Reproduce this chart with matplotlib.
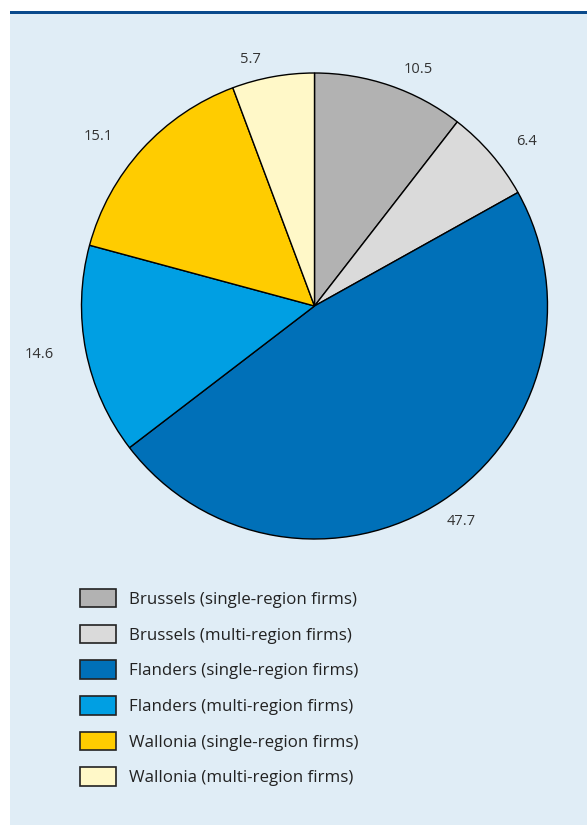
import matplotlib
matplotlib.use("Agg")
import matplotlib.pyplot as plt
from matplotlib.patches import Rectangle
import numpy as np

categories = [
    "Brussels (single-region firms)",
    "Brussels (multi-region firms)",
    "Flanders (single-region firms)",
    "Flanders (multi-region firms)",
    "Wallonia (single-region firms)",
    "Wallonia (multi-region firms)",
]
values = [10.5, 6.4, 47.7, 14.6, 15.1, 5.7]
value_labels = ["10.5", "6.4", "47.7", "14.6", "15.1", "5.7"]
colors = ["#b2b2b2", "#dadada", "#0070b8", "#009fe3", "#ffcc00", "#fff8c8"]

# per-label radial distance / angle nudges (style)
label_r = [1.11, 1.15, 1.12, 1.20, 1.18, 1.095]
label_da = [-4.7, -2.9, 1.0, -1.2, 4.3, 4.3]

plt.rcParams['font.family'] = ['Open Sans', 'DejaVu Sans']
W, H = 587, 825
fig = plt.figure(figsize=(W / 100, H / 100), dpi=100)
fig.patch.set_facecolor("white")

# panel background
fig.patches.append(Rectangle((10 / W, 0), 1 - 10 / W, 1 - 11 / H, transform=fig.transFigure,
                             facecolor="#e0edf6", edgecolor="none", zorder=-10))
fig.patches.append(Rectangle((10 / W, 1 - 14 / H), 1 - 10 / W, 3 / H, transform=fig.transFigure,
                             facecolor="#0a4a8c", edgecolor="none", zorder=-9))

cx, cy, r = 314.5, 306, 233
ax = fig.add_axes([(cx - r) / W, (H - cy - r) / H, 2 * r / W, 2 * r / H])
ax.set_zorder(5)
wedges, _ = ax.pie(values, colors=colors, startangle=90, counterclock=False,
                   wedgeprops=dict(edgecolor="black", linewidth=1.0))
ax.set_xlim(-1, 1)
ax.set_ylim(-1, 1)
ax.set_aspect("auto")
ax.axis("off")

for w, lab, lr, da in zip(wedges, value_labels, label_r, label_da):
    ang = np.deg2rad((w.theta1 + w.theta2) / 2 + da)
    ax.text(lr * np.cos(ang), lr * np.sin(ang), lab, ha="center", va="center",
            fontsize=10.5, color="#333333", clip_on=False)

handles = [Rectangle((0, 0), 1, 1, facecolor=c, edgecolor="#222222", linewidth=1.2) for c in colors]
leg = fig.legend(handles, categories, loc="upper left", bbox_to_anchor=(80 / W, 1 - 589 / H),
                 frameon=False, fontsize=12.2, handlelength=2.12, handleheight=1.3,
                 handletextpad=0.76, labelspacing=0.99, borderaxespad=0, borderpad=0)
for t in leg.get_texts():
    t.set_color("#222222")

fig.savefig("out.png", dpi=100, facecolor=fig.get_facecolor())
